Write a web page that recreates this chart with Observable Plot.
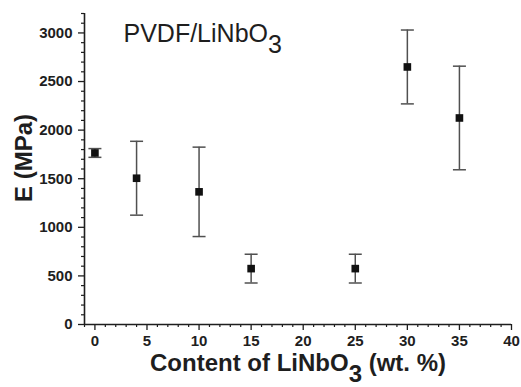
<!DOCTYPE html>
<html>
<head>
<meta charset="utf-8">
<script src="https://cdn.jsdelivr.net/npm/d3@7"></script>
<script src="https://cdn.jsdelivr.net/npm/@observablehq/plot@0.6"></script>
<style>
  html, body { margin: 0; padding: 0; background: #fff; }
  svg { display: block; }
</style>
</head>
<body>
<div id="chart"></div>
<script>
// Data
const content = [0, 4, 10, 15, 25, 30, 35];          // wt. % LiNbO3
const modulus = [1765, 1505, 1365, 575, 575, 2650, 2125]; // E (MPa)
const errorBar = [45, 380, 460, 148, 148, 380, 533];  // ± MPa

const xMajorTicks = [0, 5, 10, 15, 20, 25, 30, 35, 40];
const xMinorTicks = d3.range(-1, 41).filter(v => v % 5 !== 0);
const yMajorTicks = [0, 500, 1000, 1500, 2000, 2500, 3000];
const yMinorTicks = d3.range(0, 3201, 100).filter(v => v % 500 !== 0);

const titleParts = ["PVDF/LiNbO", "3", ""];
const xLabelParts = ["Content of LiNbO", "3", " (wt. %)"];
const yLabel = "E (MPa)";

const data = content.map((x, i) => ({
  x, y: modulus[i], lo: modulus[i] - errorBar[i], hi: modulus[i] + errorBar[i]
}));

const capSymbol = {
  draw(context, size) {
    const r = Math.sqrt(size / Math.PI);
    context.moveTo(-r, 0);
    context.lineTo(r, 0);
  }
};

const font = "'Liberation Sans', Arial, sans-serif";
const ink = "#1e1e1e";

const svg = Plot.plot({
  width: 521,
  height: 387,
  marginLeft: 84,
  marginRight: 10,
  marginTop: 13,
  marginBottom: 63,
  style: { fontFamily: font, background: "#fff", color: ink },
  x: { domain: [-1, 40] },
  y: { domain: [0, 3200] },
  marks: [
    // minor ticks
    Plot.axisX({ ticks: xMinorTicks, tickSize: 3, tickFormat: () => "", label: null, stroke: ink, strokeWidth: 1.2 }),
    Plot.axisY({ ticks: yMinorTicks, tickSize: 3, tickFormat: () => "", label: null, stroke: ink, strokeWidth: 1.2 }),
    // major ticks
    Plot.axisX({ ticks: xMajorTicks, tickSize: 6, tickPadding: 5, tickFormat: d => String(d), label: null,
                 fontSize: 15, fontWeight: "bold", stroke: ink, fill: ink, strokeWidth: 1.3 }),
    Plot.axisY({ ticks: yMajorTicks, tickSize: 6, tickPadding: 6, tickFormat: d => String(d), label: null,
                 fontSize: 15, fontWeight: "bold", stroke: ink, fill: ink, strokeWidth: 1.3 }),
    // axis lines
    Plot.ruleX([-1], { stroke: ink, strokeWidth: 1.6 }),
    Plot.ruleY([0], { stroke: ink, strokeWidth: 1.6 }),
    // error bars
    Plot.ruleX(data, { x: "x", y1: "lo", y2: "hi", stroke: "#505050", strokeWidth: 1.5 }),
    Plot.dot(data, { x: "x", y: "lo", symbol: capSymbol, r: 6.5, stroke: "#505050", strokeWidth: 1.5, fill: "none" }),
    Plot.dot(data, { x: "x", y: "hi", symbol: capSymbol, r: 6.5, stroke: "#505050", strokeWidth: 1.5, fill: "none" }),
    // points
    Plot.dot(data, { x: "x", y: "y", symbol: "square", r: 4.3, fill: "#111", stroke: null }),
    // title
    Plot.text([titleParts.join("")], { frameAnchor: "top-left", textAnchor: "start", lineAnchor: "top",
      dx: 39, dy: 11, fontSize: 25, fill: ink }),
    // x label
    Plot.text([xLabelParts.join("")], { frameAnchor: "bottom", textAnchor: "middle",
      dy: 46, fontSize: 24, fontWeight: "bold", fill: ink }),
    // y label
    Plot.text([yLabel], { frameAnchor: "left", textAnchor: "middle", rotate: -90,
      dx: -60, dy: -11, fontSize: 24, fontWeight: "bold", fill: ink })
  ]
});

// add subscripts as real tspans
function subscript(parts, shift) {
  const full = parts.join("");
  d3.select(svg).selectAll("text").each(function () {
    const t = d3.select(this);
    if (t.selectAll("tspan").size() === 0 && t.text() === full) {
      t.text(parts[0]);
      t.append("tspan").attr("dy", shift).text(parts[1]);
      if (parts[2]) t.append("tspan").attr("dy", -shift).text(parts[2]);
    }
  });
}
subscript(titleParts, 11);
subscript(xLabelParts, 11);

document.getElementById("chart").appendChild(svg);
</script>
</body>
</html>
